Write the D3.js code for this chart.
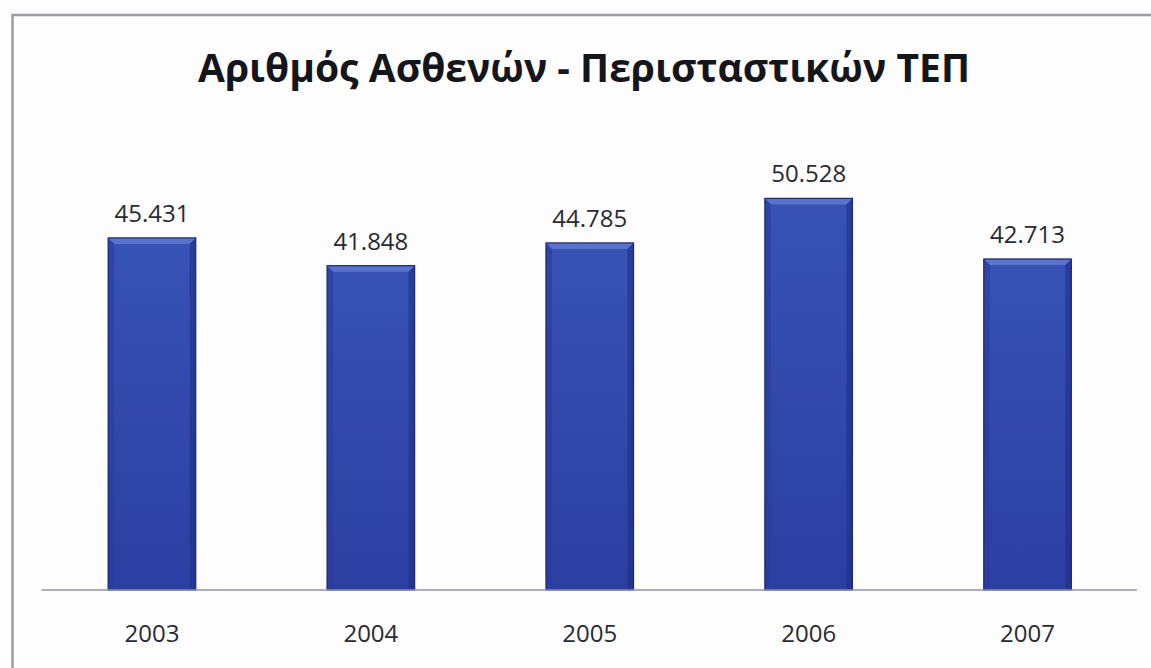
<!DOCTYPE html>
<html>
<head>
<meta charset="utf-8">
<script src="https://cdn.jsdelivr.net/npm/d3@7"></script>
<style>
  html, body { margin: 0; padding: 0; background: #fdfdfd; }
  svg { display: block; }
</style>
</head>
<body>
<svg id="chart" width="1151" height="668"></svg>
<script>
// Patients of the emergency department per year
const years = ["2003", "2004", "2005", "2006", "2007"];
const patients = [45.431, 41.848, 44.785, 50.528, 42.713];
const valueLabels = ["45.431", "41.848", "44.785", "50.528", "42.713"];
const title = "Αριθμός Ασθενών - Περισταστικών ΤΕΠ";

const svg = d3.select("#chart");
const W = 1151, H = 668;

svg.append("rect").attr("width", W).attr("height", H).attr("fill", "#fdfdfd");

// frame lines (top and left)
svg.append("line").attr("x1", 12).attr("x2", W).attr("y1", 15).attr("y2", 15)
  .attr("stroke", "#9a9bab").attr("stroke-width", 2.5);
svg.append("line").attr("x1", 12.5).attr("x2", 12.5).attr("y1", 14).attr("y2", H)
  .attr("stroke", "#9a9bab").attr("stroke-width", 2.5);

const x = d3.scaleBand().domain(years).range([42.5, 1137]).paddingInner(0.6).paddingOuter(0.3);
const y = d3.scaleLinear().domain([0, 60]).range([590, 125]);

const defs = svg.append("defs");
const grad = defs.append("linearGradient").attr("id", "barFill")
  .attr("x1", 0).attr("y1", 0).attr("x2", 0).attr("y2", 1);
grad.append("stop").attr("offset", "0%").attr("stop-color", "#3852b6");
grad.append("stop").attr("offset", "100%").attr("stop-color", "#2c3fa2");

const bars = svg.append("g");
years.forEach((yr, i) => {
  const x0 = x(yr), w = x.bandwidth();
  const top = y(patients[i]), bot = y(0);
  const g = bars.append("g");
  g.append("rect").attr("x", x0).attr("y", top).attr("width", w).attr("height", bot - top)
    .attr("fill", "url(#barFill)");
  const b = 6;
  // bevel: lighter top face
  g.append("path")
    .attr("d", `M${x0},${top}L${x0 + w},${top}L${x0 + w - b},${top + b}L${x0 + b},${top + b}Z`)
    .attr("fill", "#5f78cf").attr("opacity", 0.85);
  // bevel: left and right edges
  g.append("path")
    .attr("d", `M${x0},${top}L${x0 + b},${top + b}L${x0 + b},${bot}L${x0},${bot}Z`)
    .attr("fill", "#2a3c9c").attr("opacity", 0.6);
  g.append("path")
    .attr("d", `M${x0 + w},${top}L${x0 + w - b},${top + b}L${x0 + w - b},${bot}L${x0 + w},${bot}Z`)
    .attr("fill", "#1f2e85").attr("opacity", 0.6);
  g.append("rect").attr("x", x0).attr("y", top).attr("width", w).attr("height", bot - top)
    .attr("fill", "none").attr("stroke", "#1b2773").attr("stroke-width", 1.2);
});

// category axis
const axis = svg.append("g").attr("transform", `translate(0,${y(0)})`)
  .call(d3.axisBottom(x).tickSize(0).tickPadding(0));
axis.select(".domain").attr("stroke", "#8c94b2").attr("stroke-width", 1.5)
  .attr("d", `M${x.range()[0] - 1},0H${x.range()[1]}`);
axis.selectAll(".tick text")
  .attr("y", 52).attr("dy", 0)
  .attr("font-family", "Open Sans, sans-serif").attr("font-size", 24)
  .attr("fill", "#2a2a33");

// value labels
svg.append("g").selectAll("text").data(years).join("text")
  .attr("x", d => x(d) + x.bandwidth() / 2)
  .attr("y", (d, i) => y(patients[i]) - 16)
  .attr("text-anchor", "middle")
  .attr("font-family", "Open Sans, sans-serif").attr("font-size", 24)
  .attr("fill", "#2a2a33")
  .text((d, i) => valueLabels[i]);

// title
svg.append("text")
  .attr("x", 584).attr("y", 82)
  .attr("text-anchor", "middle")
  .attr("font-family", "Open Sans, sans-serif").attr("font-weight", 700)
  .attr("font-size", 40).attr("fill", "#15151c")
  .attr("textLength", 772).attr("lengthAdjust", "spacingAndGlyphs")
  .text(title);
</script>
</body>
</html>
